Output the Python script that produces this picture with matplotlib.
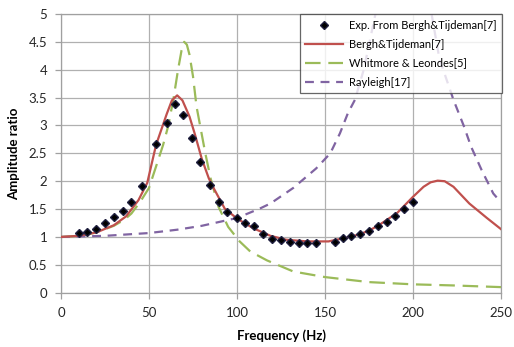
import matplotlib
matplotlib.use("Agg")
import matplotlib.pyplot as plt

plt.rcParams['font.family'] = ['Lato', 'DejaVu Sans']

# measured points (Bergh & Tijdeman experiment)
exp_freq = [10, 15, 20, 25, 30, 35, 40, 46, 54, 60.5, 65, 69.5, 74.5, 79, 84.5, 89.5,
            94.5, 100, 104.5, 109.5, 115, 120, 125, 130, 135, 140, 145, 155.5, 160,
            165, 170, 175, 180, 185, 190, 195, 200]
exp_amp = [1.07, 1.09, 1.15, 1.25, 1.35, 1.47, 1.63, 1.92, 2.67, 3.05, 3.39, 3.18, 2.77,
           2.35, 1.93, 1.63, 1.44, 1.34, 1.25, 1.19, 1.05, 0.97, 0.95, 0.91, 0.90, 0.89,
           0.89, 0.91, 0.98, 1.02, 1.05, 1.11, 1.19, 1.27, 1.37, 1.50, 1.62]

# Bergh & Tijdeman model
bt_freq = [0, 10, 20, 30, 37, 44, 49, 54, 60, 63, 66, 69, 73, 76, 80, 84, 87, 93, 100,
           109, 119, 128, 140, 152, 164, 170, 176, 181, 191, 200, 206, 210, 214, 218,
           223, 232, 242, 250]
bt_amp = [1.00, 1.02, 1.08, 1.21, 1.37, 1.66, 1.97, 2.65, 3.20, 3.45, 3.54, 3.45, 3.16,
          2.85, 2.40, 2.05, 1.86, 1.51, 1.33, 1.16, 1.02, 0.95, 0.92, 0.92, 1.00, 1.05,
          1.13, 1.22, 1.43, 1.72, 1.90, 1.98, 2.01, 2.00, 1.90, 1.60, 1.34, 1.14]

# Whitmore & Leondes model
wl_freq = [0, 10, 20, 30, 36, 40, 45, 50, 55, 58, 61, 64, 66.5, 68.5, 70, 71.5, 73, 75,
           77, 79.5, 82, 85, 89.5, 95, 101.5, 107.5, 117, 132, 150, 175, 200, 223, 250]
wl_amp = [1.00, 1.02, 1.08, 1.20, 1.31, 1.42, 1.63, 1.88, 2.36, 2.65, 3.00, 3.50, 4.00,
          4.35, 4.50, 4.45, 4.27, 3.88, 3.34, 2.92, 2.50, 2.05, 1.54, 1.18, 0.92, 0.74,
          0.58, 0.38, 0.28, 0.19, 0.15, 0.13, 0.10]

# Rayleigh model
ray_freq = [0, 25, 50, 66, 80, 100, 113, 119, 132, 145, 153, 158.5, 163, 167, 172, 180,
            190, 196, 205, 215, 223, 229, 233, 239, 245.6, 250]
ray_amp = [1.00, 1.02, 1.07, 1.13, 1.20, 1.34, 1.51, 1.60, 1.88, 2.23, 2.50, 2.86, 3.22,
           3.46, 4.00, 5.20, 7.00, 7.50, 6.00, 4.20, 3.46, 2.98, 2.62, 2.20, 1.78, 1.62]

fig = plt.figure(figsize=(5.14, 3.47), dpi=100)
ax = fig.add_axes([0.1187, 0.1565, 0.856, 0.8032])

ax.plot(exp_freq, exp_amp, linestyle='none', marker='D', markersize=3.8,
        color='black', markeredgecolor='#1f1f3f', label='Exp. From Bergh&Tijdeman[7]', zorder=5)
ax.plot(bt_freq, bt_amp, color='#C0504D', lw=1.6, label='Bergh&Tijdeman[7]', zorder=4)
ax.plot(wl_freq, wl_amp, color='#9BBB59', lw=1.6, linestyle=(0, (7, 3.5)),
        label='Whitmore & Leondes[5]', zorder=3)
ax.plot(ray_freq, ray_amp, color='#8064A2', lw=1.6, linestyle=(0, (4, 3)),
        label='Rayleigh[17]', zorder=3)

ax.set_xlim(0, 250)
ax.set_ylim(0, 5)
ax.set_xticks([0, 50, 100, 150, 200, 250])
ax.set_yticks([0, 0.5, 1, 1.5, 2, 2.5, 3, 3.5, 4, 4.5, 5])
ax.set_yticklabels(['0', '0.5', '1', '1.5', '2', '2.5', '3', '3.5', '4', '4.5', '5'])
ax.grid(True, color='#B0B0B0', lw=0.9)
ax.set_axisbelow(True)
for side in ax.spines.values():
    side.set_color('#A0A0A0')
    side.set_linewidth(0.9)
ax.tick_params(axis='both', colors='#A0A0A0', labelcolor='#262626', labelsize=9.5,
               length=4, width=0.9)
ax.tick_params(axis='x', pad=6)
ax.tick_params(axis='y', pad=6)

ax.set_xlabel('Frequency (Hz)', fontsize=9.5, fontweight='bold', labelpad=8)
ax.set_ylabel('Amplitude ratio', fontsize=9.5, fontweight='bold', labelpad=6)

leg = ax.legend(loc='upper right', bbox_to_anchor=(1.002, 1.0), borderaxespad=0,
                fontsize=8, frameon=True, fancybox=False, edgecolor='#404040',
                handlelength=3.4, handletextpad=0.5, labelspacing=0.72, borderpad=0.5)
leg.get_frame().set_linewidth(0.9)
leg.set_zorder(10)

fig.savefig('out.png', dpi=100)
